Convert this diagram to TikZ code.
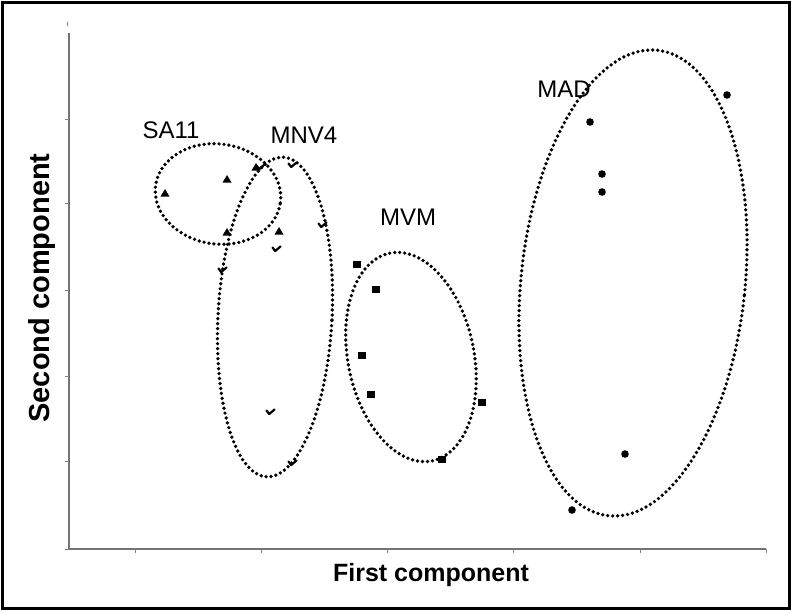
\documentclass[tikz,border=0pt]{standalone}
\usepackage{fontspec}
\setmainfont{Liberation Sans}
\begin{document}
\begin{tikzpicture}[x=1pt,y=1pt,
  dotline/.style={line width=3.7pt, dash pattern=on 0pt off 5pt, line cap=round},
  axisline/.style={draw=black!55, line width=2pt},
  tickmark/.style={draw=black!50, line width=0.8pt},
  grplabel/.style={font=\fontsize{24}{27}\selectfont, inner sep=0pt},
  axlabel/.style={font=\fontsize{25}{28}\selectfont\bfseries, inner sep=0pt},
  tri/.pic={\fill (-4.5,-3.5) -- (4.5,-3.5) -- (0,4) -- cycle;},
  chk/.pic={\draw[line width=2.2pt, line join=round, line cap=round] (-3.5,1.5) -- (-0.8,-2) -- (4.5,2.5);},
  sq/.pic={\fill (-4,-3.5) rectangle (4,3.5);},
  dt/.pic={\fill (0,0) circle (3.8);}
]
\useasboundingbox (0,0) rectangle (791,-611);
\draw[line width=3pt] (2,-2) rectangle (789,-608);

% axes
\coordinate (o) at (69,-549);
\coordinate (ytop) at (69,-33);
\coordinate (xend) at (766,-549);
\draw[axisline] (ytop) -- (o) -- (xend);
\foreach \yy in {-119,-203,-290,-376,-461,-549} \draw[tickmark] (65,\yy) -- (69,\yy);
\draw[tickmark] (67,-22) -- (67,-26);
\foreach \xx in {135,261,387,513,640,766} \draw[tickmark] (\xx,-549) -- (\xx,-553);

\node[axlabel] (xl) at (431,-575) {First component};
\node[axlabel, font=\fontsize{29}{32}\selectfont\bfseries, rotate=90] (yl) at (42,-288) {Second component};

% group labels
\node[grplabel] (lsa) at (171,-130) {SA11};
\node[grplabel] (lmnv) at (304,-135) {MNV4};
\node[grplabel] (lmvm) at (408,-217) {MVM};
\node[grplabel] (lmad) at (564,-89) {MAD};

% ellipses
\coordinate (csa) at (218,-194);
\coordinate (cmnv) at (275,-317);
\coordinate (cmvm) at (411,-357);
\coordinate (cmad) at (633,-283);
\draw[dotline, rotate around={-8:(csa)}] (csa) ellipse [x radius=63, y radius=50];
\draw[dotline, rotate around={-3:(cmnv)}] (cmnv) ellipse [x radius=57, y radius=160];
\draw[dotline, rotate around={11.5:(cmvm)}] (cmvm) ellipse [x radius=63, y radius=106];
\draw[dotline, rotate around={-6:(cmad)}] (cmad) ellipse [x radius=112, y radius=234];

% SA11 triangles
\pic at (165,-193) {tri};
\pic at (227,-179) {tri};
\pic at (227,-232) {tri};
\pic at (279,-231) {tri};
\pic at (256,-167) {tri};

% MNV4 checks
\pic at (260,-167) {chk};
\pic at (292,-165) {chk};
\pic at (322,-225) {chk};
\pic at (276,-249) {chk};
\pic at (222,-270) {chk};
\pic at (270,-412) {chk};
\pic at (292,-463) {chk};

% MVM squares
\pic at (357,-264) {sq};
\pic at (376,-289) {sq};
\pic at (362,-355) {sq};
\pic at (371,-394) {sq};
\pic at (482,-402) {sq};
\pic at (442,-459) {sq};

% MAD dots
\pic at (590,-122) {dt};
\pic at (727,-95) {dt};
\pic at (602,-174) {dt};
\pic at (602,-192) {dt};
\pic at (625,-454) {dt};
\pic at (572,-510) {dt};
\end{tikzpicture}
\end{document}
